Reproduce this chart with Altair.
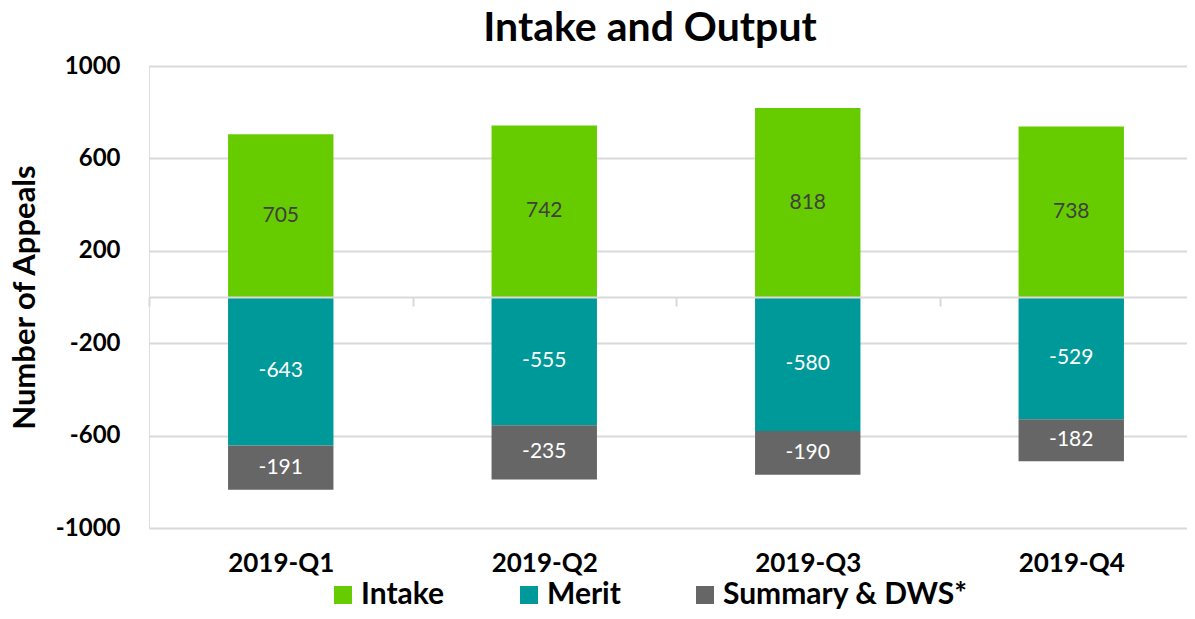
import altair as alt
import pandas as pd

quarters = ["2019-Q1", "2019-Q2", "2019-Q3", "2019-Q4"]
series_names = ["Intake", "Merit", "Summary & DWS*"]
intake = [705, 742, 818, 738]
merit = [-643, -555, -580, -529]
summary = [-191, -235, -190, -182]
colors = ["#66CC00", "#009999", "#666666"]
y_ticks = [-1000, -600, -200, 200, 600, 1000]

rows = []
for i, q in enumerate(quarters):
    rows.append(dict(quarter=q, series="Intake", value=intake[i], y0=0, y1=intake[i]))
    rows.append(dict(quarter=q, series="Merit", value=merit[i], y0=0, y1=merit[i]))
    rows.append(dict(quarter=q, series="Summary & DWS*", value=summary[i],
                     y0=merit[i], y1=merit[i] + summary[i]))
df = pd.DataFrame(rows)
df["mid"] = (df["y0"] + df["y1"]) / 2
df["label"] = df["value"].astype(str)

FONT = "Lato"

x_enc = alt.X(
    "quarter:N", sort=quarters, title=None,
    scale=alt.Scale(range=[0, 1054], paddingInner=0, paddingOuter=0),
    axis=alt.Axis(offset=-231, labelPadding=244, tickBand="extent", tickSize=9,
                  tickColor="#d9d9d9", tickWidth=2, domainColor="#d9d9d9", domainWidth=2,
                  labelAngle=0, labelFont=FONT, labelFontSize=26, labelFontWeight="bold",
                  labelColor="#000000", grid=False, zindex=1),
)

y_axis = alt.Axis(values=y_ticks, grid=True, gridColor="#d9d9d9", gridWidth=2,
                  domain=False, ticks=False, labelPadding=29, labelFont=FONT,
                  labelExpr="'' + datum.value",
                  labelFontSize=24, labelFontWeight="bold", labelColor="#000000",
                  titleFont=FONT, titleFontSize=31, titleFontWeight="bold",
                  titleColor="#000000", titleX=-124, titleY=231, titleAngle=-90,
                  titleAlign="center", titleBaseline="middle")
y_scale = alt.Scale(domain=[-1000, 1000], nice=False)

bars = alt.Chart(df).mark_bar(width=alt.RelativeBandSize(0.4)).encode(
    x=x_enc,
    y=alt.Y("y0:Q", scale=y_scale, axis=y_axis, title="Number of Appeals"),
    y2="y1:Q",
    color=alt.Color(
        "series:N", sort=series_names,
        scale=alt.Scale(domain=series_names, range=colors),
        legend=alt.Legend(title=None, orient="none", direction="horizontal",
                          legendX=179, legendY=514, symbolType="square",
                          symbolSize=324, symbolStrokeWidth=0, labelFont=FONT,
                          labelFontSize=30, labelFontWeight="bold", labelColor="#000000",
                          columnPadding=69, labelOffset=3, labelLimit=400,
                          symbolOpacity=1),
    ),
)

text_in = alt.Chart(df).transform_filter(alt.datum.series == "Intake").mark_text(
    font=FONT, fontSize=21, color="#404040"
).encode(
    x=x_enc,
    y=alt.Y("mid:Q", scale=y_scale, axis=y_axis, title="Number of Appeals"),
    text="label:N",
)

text_neg = alt.Chart(df).transform_filter(alt.datum.series != "Intake").mark_text(
    font=FONT, fontSize=21, color="#ffffff"
).encode(
    x=x_enc,
    y=alt.Y("mid:Q", scale=y_scale, axis=y_axis, title="Number of Appeals"),
    text="label:N",
)

chart = alt.layer(bars, text_in, text_neg).properties(
    width=1038, height=462,
    autosize=alt.AutoSizeParams(type="none"),
    padding={"left": 141, "top": 58, "right": 0, "bottom": 83},
    title=alt.TitleParams("Intake and Output", font=FONT, fontSize=41, fontWeight="bold",
                          color="#000000", anchor="middle", dx=-18, offset=4),
).configure_view(stroke=None).configure(background="#ffffff")

chart.save("out.html", embed_options={"renderer": "svg", "actions": False})
